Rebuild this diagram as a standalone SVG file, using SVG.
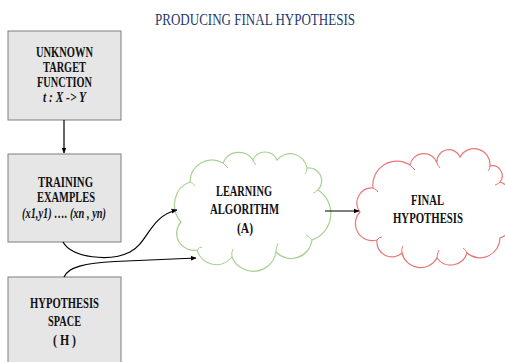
<svg xmlns="http://www.w3.org/2000/svg" width="505" height="362" viewBox="0 0 505 362">
  <defs>
    <style>
      .box { fill: #e6e6e6; stroke: #7f7f7f; stroke-width: 1; }
      .lbl { font-family: "Liberation Serif", "Times New Roman", serif; font-weight: bold; font-size: 14.5px; fill: #111; text-anchor: start; }
      .it { font-style: italic; }
      .title { font-family: "Liberation Serif", "Times New Roman", serif; font-size: 17px; fill: #1f3a6e; }
      .edge { fill: none; stroke: #000; stroke-width: 1.2; }
      .cloud-g { fill: #fff; stroke: #a8d193; stroke-width: 1.2; }
      .cloud-r { fill: #fff; stroke: #e77878; stroke-width: 1.2; }
    </style>
    <marker id="arrow" viewBox="0 0 10 10" refX="9" refY="5" markerWidth="6" markerHeight="6" orient="auto" markerUnits="userSpaceOnUse">
      <path d="M0,1 L10,5 L0,9 Z" fill="#000"/>
    </marker>
  </defs>

  <rect width="505" height="362" fill="#fff"/>

  <text class="title" x="155" y="25" textLength="200" lengthAdjust="spacingAndGlyphs">PRODUCING FINAL HYPOTHESIS</text>

  <g id="target-function">
    <rect class="box" x="8" y="31" width="113" height="89"/>
    <text class="lbl" x="36" y="57" textLength="57" lengthAdjust="spacingAndGlyphs">UNKNOWN</text>
    <text class="lbl" x="43" y="72" textLength="43" lengthAdjust="spacingAndGlyphs">TARGET</text>
    <text class="lbl" x="37" y="87" textLength="55" lengthAdjust="spacingAndGlyphs">FUNCTION</text>
    <text class="lbl it" x="43" y="102" textLength="43" lengthAdjust="spacingAndGlyphs">t : X -&gt; Y</text>
  </g>

  <g id="training-examples">
    <rect class="box" x="8" y="154" width="113" height="88"/>
    <text class="lbl" x="38" y="187" textLength="55" lengthAdjust="spacingAndGlyphs">TRAINING</text>
    <text class="lbl" x="37" y="202" textLength="58" lengthAdjust="spacingAndGlyphs">EXAMPLES</text>
    <text class="lbl it" x="22" y="218" textLength="84" lengthAdjust="spacingAndGlyphs">(x1,y1) …. (xn , yn)</text>
  </g>

  <g id="hypothesis-space">
    <rect class="box" x="8" y="277" width="113" height="95"/>
    <text class="lbl" x="30" y="308" textLength="69" lengthAdjust="spacingAndGlyphs">HYPOTHESIS</text>
    <text class="lbl" x="48" y="326" textLength="33" lengthAdjust="spacingAndGlyphs">SPACE</text>
    <text class="lbl" x="53" y="345" textLength="23" lengthAdjust="spacingAndGlyphs">( H )</text>
  </g>

  <g id="learning-algorithm">
    <path class="cloud-g" d="M181,222 A22,24 0 0 1 190,182 A22,22 0 0 1 223,163 A17,17 0 0 1 253,160 A13,13 0 0 1 277,160 A17,17 0 0 1 307,168 A13,13 0 0 1 318,190 A28,28 0 0 1 312,240 A21,21 0 0 1 276,252 A23,23 0 0 1 232,257 A20,20 0 0 1 197,250 A17,17 0 0 1 181,222 Z"/>
    <path d="M197,250 q2,-3 5,-3 M232,257 q-1,-4 1,-8 M276,252 q0,-5 2,-9 M312,240 q-2,-3 -6,-5 M318,190 q-2,2 -5,3 M307,168 q0,4 -2,6 M253,160 q1,3 3,5 M223,163 q2,2 5,5 M190,182 q3,1 5,4" fill="none" stroke="#a8d193" stroke-width="1"/>
    <text class="lbl" x="216" y="196" textLength="56" lengthAdjust="spacingAndGlyphs">LEARNING</text>
    <text class="lbl" x="210" y="214" textLength="69" lengthAdjust="spacingAndGlyphs">ALGORITHM</text>
    <text class="lbl" x="237" y="233" textLength="16" lengthAdjust="spacingAndGlyphs">(A)</text>
  </g>

  <g id="final-hypothesis">
    <path class="cloud-r" d="M360,212 A15,15 0 0 1 373,188 A24,24 0 0 1 410,165 A14,14 0 0 1 437,163 A12,12 0 0 1 460,157 A16,16 0 0 1 490,166 A10,10 0 0 1 500,182 A30,30 0 0 1 500,238 A20,20 0 0 1 467,253 A17,17 0 0 1 437,258 A19,19 0 0 1 402,253 A15,15 0 0 1 377,240 A17,17 0 0 1 360,212 Z"/>
    <path d="M377,240 q2,-3 5,-3 M402,253 q-1,-4 1,-7 M437,258 q0,-4 2,-8 M467,253 q-1,-3 -4,-5 M500,182 q-2,2 -5,3 M490,166 q0,3 -2,5 M437,163 q1,3 3,5 M410,165 q2,2 5,5 M373,188 q3,1 5,4" fill="none" stroke="#e77878" stroke-width="1"/>
    <text class="lbl" x="411" y="205" textLength="33" lengthAdjust="spacingAndGlyphs">FINAL</text>
    <text class="lbl" x="393" y="223" textLength="70" lengthAdjust="spacingAndGlyphs">HYPOTHESIS</text>
  </g>

  <g id="connectors">
    <path class="edge" d="M64,120 L64,153" marker-end="url(#arrow)"/>
    <path class="edge" d="M63,242 C72,258 110,262 130,252 C148,243 150,216 177,210" marker-end="url(#arrow)"/>
    <path class="edge" d="M64,277 C68,267 85,263 115,261.5 L196,258" marker-end="url(#arrow)"/>
    <path class="edge" d="M325,211 L359,211" marker-end="url(#arrow)"/>
  </g>
</svg>
